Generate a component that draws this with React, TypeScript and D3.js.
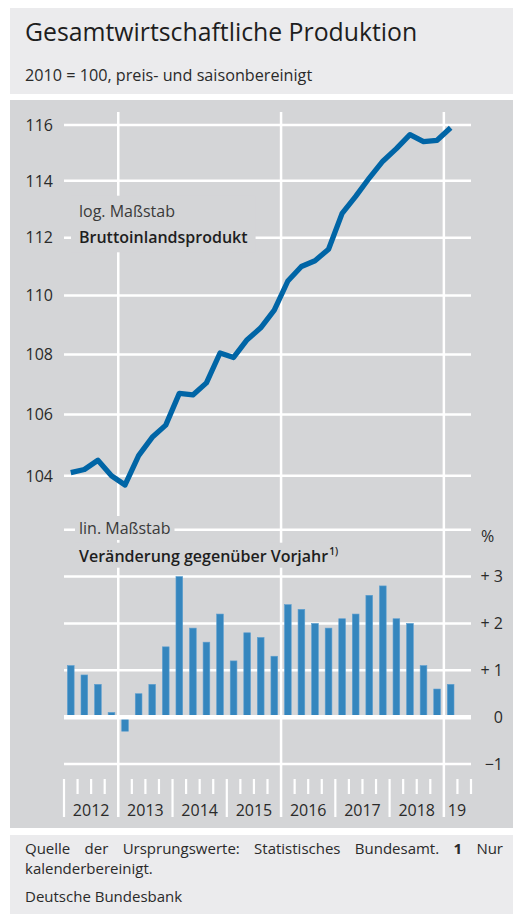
import React, { useEffect, useRef } from "react";
import * as d3 from "d3";

const quarters = [
  "2012 Q1", "2012 Q2", "2012 Q3", "2012 Q4",
  "2013 Q1", "2013 Q2", "2013 Q3", "2013 Q4",
  "2014 Q1", "2014 Q2", "2014 Q3", "2014 Q4",
  "2015 Q1", "2015 Q2", "2015 Q3", "2015 Q4",
  "2016 Q1", "2016 Q2", "2016 Q3", "2016 Q4",
  "2017 Q1", "2017 Q2", "2017 Q3", "2017 Q4",
  "2018 Q1", "2018 Q2", "2018 Q3", "2018 Q4",
  "2019 Q1",
];

const gdpIndex = [
  104.1, 104.2, 104.5, 104.0,
  103.7, 104.65, 105.25, 105.65,
  106.7, 106.65, 107.05, 108.05,
  107.9, 108.5, 108.9, 109.5,
  110.5, 111.0, 111.2, 111.6,
  112.85, 113.45, 114.1, 114.7,
  115.15, 115.65, 115.4, 115.45,
  115.9,
];

const yoyChange = [
  1.1, 0.9, 0.7, 0.1,
  -0.3, 0.5, 0.7, 1.5,
  3.0, 1.9, 1.6, 2.2,
  1.2, 1.8, 1.7, 1.3,
  2.4, 2.3, 2.0, 1.9,
  2.1, 2.2, 2.6, 2.8,
  2.1, 2.0, 1.1, 0.6,
  0.7,
];

const yearLabels = ["2012", "2013", "2014", "2015", "2016", "2017", "2018", "19"];
const topTicks = [104, 106, 108, 110, 112, 114, 116];
const bottomTicks = [-1, 0, 1, 2, 3];
const bottomTickLabels = ["\u22121", "0", "+ 1", "+ 2", "+ 3"];
const gridYears = [1, 4, 7]; // year indices with full-height vertical gridlines

const FONT = "'Open Sans', 'Noto Sans', sans-serif";
const HEADER_BG = "#ebebed";
const PANEL_BG = "#d4d5d7";
const LINE_COLOR = "#0065a6";
const BAR_COLOR = "#3586be";
const TEXT = "#1e1e1e";

export default function App() {
  const ref = useRef<SVGSVGElement | null>(null);

  useEffect(() => {
    const svg = d3.select(ref.current as SVGSVGElement);
    svg.selectAll("*").remove();

    const W = 513;
    const nQ = 30;
    const x = d3.scaleLinear().domain([0, nQ]).range([64, 471]);
    const yTop = d3.scaleLog().domain([104, 116]).range([475.7, 125]);
    const yBot = d3.scaleLinear().domain([-1, 4]).range([764, 529.7]);

    // panels
    svg.append("rect").attr("x", 10).attr("y", 8).attr("width", W - 10).attr("height", 86).attr("fill", HEADER_BG);
    svg.append("rect").attr("x", 10).attr("y", 100).attr("width", W - 10).attr("height", 728).attr("fill", PANEL_BG);
    svg.append("rect").attr("x", 10).attr("y", 835).attr("width", W - 10).attr("height", 79).attr("fill", HEADER_BG);

    // title
    svg.append("text").attr("x", 25).attr("y", 41).attr("font-family", FONT).attr("font-size", 24.8)
      .attr("fill", TEXT).text("Gesamtwirtschaftliche Produktion");
    svg.append("text").attr("x", 25).attr("y", 81).attr("font-family", FONT).attr("font-size", 16.2)
      .attr("fill", "#2a2a2a").text("2010 = 100, preis- und saisonbereinigt");

    const grid = svg.append("g").attr("stroke", "#ffffff").attr("stroke-width", 2.5);

    // top horizontal gridlines
    topTicks.forEach((t) => {
      grid.append("line").attr("x1", x(0)).attr("x2", x(nQ)).attr("y1", yTop(t)).attr("y2", yTop(t));
    });
    // bottom horizontal gridlines (except zero)
    [...bottomTicks, 4].filter((t) => t !== 0).forEach((t) => {
      grid.append("line").attr("x1", x(0)).attr("x2", x(nQ)).attr("y1", yBot(t)).attr("y2", yBot(t));
    });
    // vertical gridlines
    gridYears.forEach((yi) => {
      grid.append("line").attr("x1", x(yi * 4)).attr("x2", x(yi * 4)).attr("y1", 112).attr("y2", 817);
    });
    // x-axis ticks
    d3.range(0, nQ + 1).forEach((q) => {
      const isYear = q % 4 === 0;
      if (isYear && gridYears.includes(q / 4)) return;
      grid.append("line").attr("x1", x(q)).attr("x2", x(q)).attr("y1", 779).attr("y2", isYear ? 817 : 794)
        .attr("stroke-width", 2.2);
    });

    // text labels with knockout background
    const labelBlock = (
      items: { text: string; y: number; weight: number; fill: string; sup?: string }[],
      padX: number,
      padY: number,
      merge: boolean
    ) => {
      const g = svg.append("g");
      const nodes: SVGTextElement[] = [];
      items.forEach((it) => {
        const t = g.append("text").attr("x", 79).attr("y", it.y).attr("font-family", FONT)
          .attr("font-size", 16).attr("font-weight", it.weight).attr("fill", it.fill).text(it.text);
        if (it.sup) {
          t.append("tspan").attr("font-size", 10).attr("dy", -7).attr("dx", 1).text(it.sup);
        }
        nodes.push(t.node() as SVGTextElement);
      });
      const boxes = nodes.map((n) => n.getBBox());
      const rects = merge
        ? [{
            x: d3.min(boxes, (b) => b.x)!, y: d3.min(boxes, (b) => b.y)!,
            x2: d3.max(boxes, (b) => b.x + b.width)!, y2: d3.max(boxes, (b) => b.y + b.height)!,
          }]
        : boxes.map((b) => ({ x: b.x, y: b.y, x2: b.x + b.width, y2: b.y + b.height }));
      rects.forEach((r) => {
        g.insert("rect", "text").attr("x", r.x - padX).attr("y", r.y - padY)
          .attr("width", r.x2 - r.x + 2 * padX).attr("height", r.y2 - r.y + 2 * padY).attr("fill", PANEL_BG);
      });
    };

    labelBlock(
      [
        { text: "log. Maßstab", y: 216.7, weight: 400, fill: "#3a3a3a" },
        { text: "Bruttoinlandsprodukt", y: 243.3, weight: 600, fill: TEXT },
      ],
      8, 4, true
    );
    labelBlock([{ text: "lin. Maßstab", y: 534, weight: 400, fill: "#3a3a3a" }], 4, 1, false);
    labelBlock([{ text: "Veränderung gegenüber Vorjahr", y: 561.7, weight: 600, fill: TEXT, sup: "1)" }], 4, 1, false);

    // top y-axis labels
    topTicks.forEach((t) => {
      svg.append("text").attr("x", 53).attr("y", yTop(t) + 5.8).attr("text-anchor", "end")
        .attr("font-family", FONT).attr("font-size", 16).attr("fill", "#2a2a2a").text(String(t));
    });
    // bottom y-axis labels (right)
    bottomTicks.forEach((t, i) => {
      svg.append("text").attr("x", 503).attr("y", yBot(t) + 5.8).attr("text-anchor", "end")
        .attr("font-family", FONT).attr("font-size", 16).attr("fill", "#2a2a2a").text(bottomTickLabels[i]);
    });
    svg.append("text").attr("x", 481).attr("y", 542).attr("font-family", FONT).attr("font-size", 16)
      .attr("fill", "#2a2a2a").text("%");

    // year labels
    yearLabels.forEach((lab, i) => {
      const cx = i < 7 ? (x(i * 4) + x(i * 4 + 4)) / 2 : x(i * 4) + 4;
      svg.append("text").attr("x", cx).attr("y", 816).attr("text-anchor", i < 7 ? "middle" : "start")
        .attr("font-family", FONT).attr("font-size", 16).attr("fill", "#2a2a2a").text(lab);
    });

    // bars
    const barW = 6.7;
    svg.append("g").selectAll("rect").data(yoyChange).join("rect")
      .attr("x", (_d, i) => x(i + 0.5) - barW / 2)
      .attr("width", barW)
      .attr("y", (d) => Math.min(yBot(d), yBot(0)))
      .attr("height", (d) => Math.abs(yBot(d) - yBot(0)))
      .attr("fill", BAR_COLOR)
      .attr("stroke", "#5d9fd0")
      .attr("stroke-width", 0.6);

    // zero line
    svg.append("line").attr("x1", x(0)).attr("x2", x(nQ)).attr("y1", yBot(0)).attr("y2", yBot(0))
      .attr("stroke", "#ffffff").attr("stroke-width", 4.5);

    // GDP line
    const line = d3.line<number>().x((_d, i) => x(i + 0.5)).y((d) => yTop(d));
    svg.append("path").attr("d", line(gdpIndex) as string).attr("fill", "none")
      .attr("stroke", LINE_COLOR).attr("stroke-width", 5.3).attr("stroke-linejoin", "round");

    // footer: first line justified
    const FS = 15;
    const words = [
      { t: "Quelle", b: false }, { t: "der", b: false }, { t: "Ursprungswerte:", b: false },
      { t: "Statistisches", b: false }, { t: "Bundesamt.", b: false }, { t: "1", b: true }, { t: "Nur", b: false },
    ];
    const para = svg.append("text").attr("font-family", FONT).attr("font-size", FS).attr("fill", "#2a2a2a");
    const spans = words.map((w) =>
      para.append("tspan").attr("y", 854).attr("x", 25).attr("font-weight", w.b ? 700 : 400).text(w.t)
        .node() as SVGTSpanElement
    );
    const widths = spans.map((n) => n.getComputedTextLength());
    const total = d3.sum(widths);
    const gap = (503 - 25 - total) / (words.length - 1);
    let cx = 25;
    spans.forEach((n, i) => {
      d3.select(n).attr("x", cx);
      cx += widths[i] + gap;
    });
    svg.append("text").attr("font-family", FONT).attr("font-size", FS).attr("fill", "#2a2a2a")
      .attr("x", 25).attr("y", 874).text("kalenderbereinigt.");
    svg.append("text").attr("font-family", FONT).attr("font-size", FS).attr("fill", "#2a2a2a")
      .attr("x", 25).attr("y", 902).text("Deutsche Bundesbank");
  }, []);

  return (
    <div style={{ position: "absolute", left: 0, top: 0 }}>
      <svg ref={ref} width={513} height={914} style={{ display: "block" }} />
    </div>
  );
}
